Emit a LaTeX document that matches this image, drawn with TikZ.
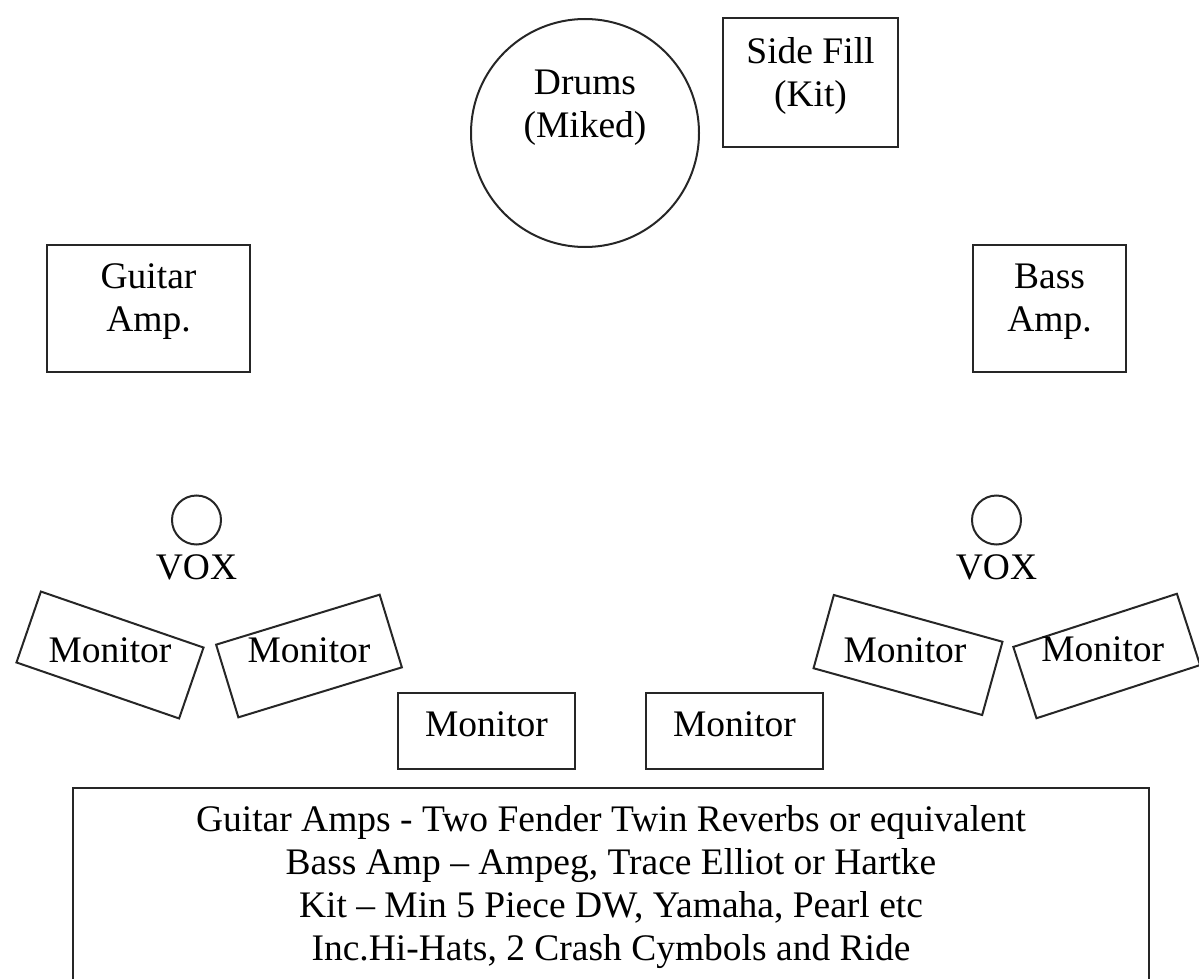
\documentclass[tikz,border=0pt]{standalone}
\usepackage{fontspec}
\setmainfont{Liberation Serif}
\usetikzlibrary{positioning}

\begin{document}
\begin{tikzpicture}[x=1pt,y=-1pt,line width=2pt,font=\fontsize{37.5}{43}\selectfont,
    box/.style={draw=black!85,rectangle,inner sep=0pt,align=center},
    tilt/.style={draw=black!85,rectangle,inner sep=0pt,minimum width=172,minimum height=75},
    lbl/.style={inner sep=0pt,align=center}]
                \useasboundingbox (0,0) rectangle (1199,979);
                \clip (0,0) rectangle (1199,979);
                % back line
                \node[box,circle,minimum size=228,text depth=59] (drums) at (585,133) {Drums\\(Miked)};
                \node[box,minimum width=175,minimum height=129,text depth=21] (sidefill) at (810.5,82.5) {Side Fill\\(Kit)};
                \node[box,minimum width=203,minimum height=127,text depth=21] (gtramp) at (148.5,308.5) {Guitar\\Amp.};
                \node[box,minimum width=153,minimum height=127,text depth=21] (bassamp) at (1049.5,308.5) {Bass\\Amp.};
                % vocals
                \node[box,circle,minimum size=49] (voxL) at (196.5,520) {};
                \node[lbl,below=8pt of voxL] (voxLtxt) {VOX};
                \node[box,circle,minimum size=49] (voxR) at (996.5,520) {};
                \node[lbl,below=8pt of voxR] (voxRtxt) {VOX};
                % wedges
                \node[tilt,rotate=-19] (monA) at (110,655) {};
                \node[lbl] (monAtxt) at ([yshift=5]monA.center) {Monitor};
                \node[tilt,rotate=17,minimum width=171,minimum height=76] (monB) at (309,656) {};
                \node[lbl] (monBtxt) at ([yshift=6]monB.center) {Monitor};
                \node[tilt,rotate=-15.5,minimum width=175,minimum height=76] (monC) at (908,655) {};
                \node[lbl] (monCtxt) at ([xshift=-3,yshift=5]monC.center) {Monitor};
                \node[tilt,rotate=18] (monD) at (1106.7,656) {};
                \node[lbl] (monDtxt) at ([xshift=-4,yshift=7]monD.center) {Monitor};
                \node[box,minimum width=177,minimum height=76,text depth=13] (monE) at (486.5,731) {Monitor};
                \node[box,minimum width=177,minimum height=76,text depth=13] (monF) at (734.5,731) {Monitor};
                \node[box,anchor=north,minimum width=1076,inner ysep=17pt] (spec) at (611,787)
                    {Guitar Amps - Two Fender Twin Reverbs or equivalent\\
                     Bass Amp – Ampeg, Trace Elliot or Hartke\\
                     Kit – Min 5 Piece DW, Yamaha, Pearl etc\\
                     Inc.Hi-Hats, 2 Crash Cymbols and Ride};
            \end{tikzpicture}
\end{document}
